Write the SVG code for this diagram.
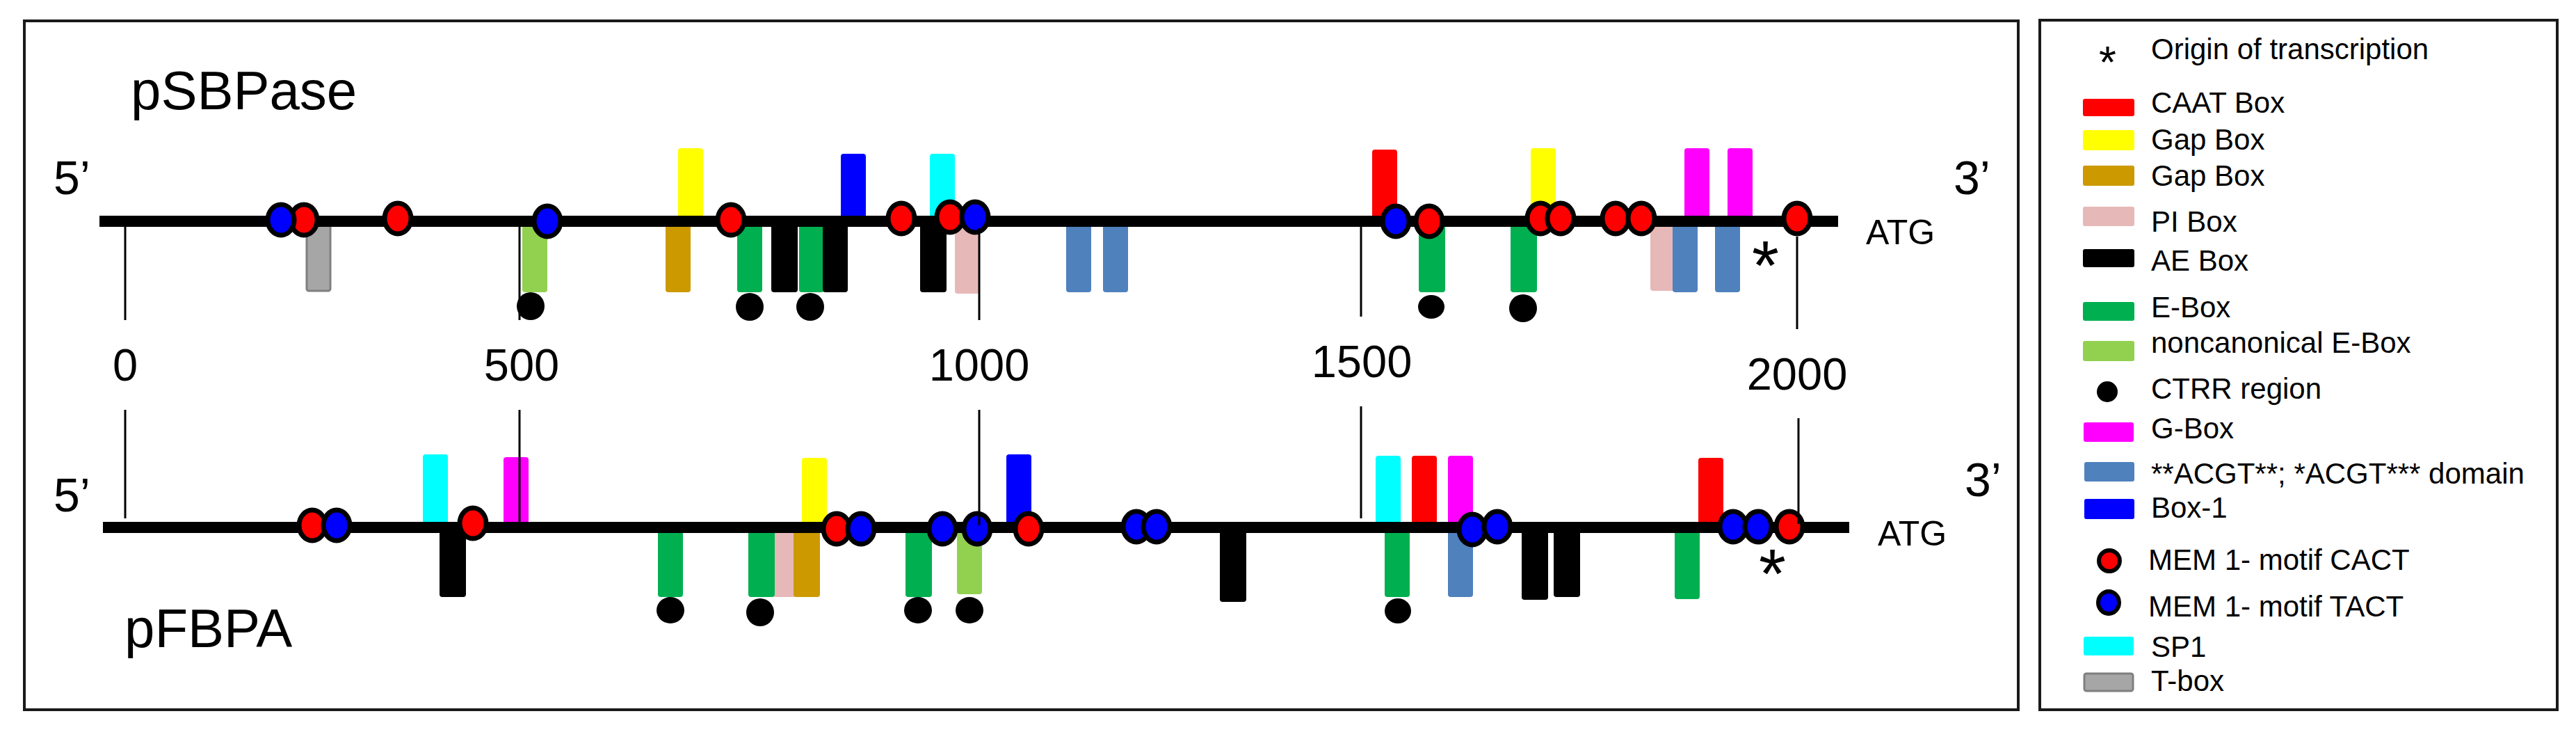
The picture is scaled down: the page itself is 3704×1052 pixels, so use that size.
<svg xmlns="http://www.w3.org/2000/svg" width="3704" height="1052" viewBox="0 0 3704 1052">
<style>
text{font-family:"Liberation Sans",Arial,sans-serif;fill:#000}
.frame{fill:none;stroke:#1a1a1a;stroke-width:4}
.caat{fill:#ff0000}.gap{fill:#ffff00}.gap2{fill:#cc9900}.pi{fill:#e6b9b8}.ae{fill:#000}.ebox{fill:#00b050}.nce{fill:#92d050}.gbox{fill:#ff00ff}.acgt{fill:#4f81bd}.box1{fill:#0000ff}.sp1{fill:#00ffff}
.tbox{fill:#a6a6a6;stroke:#7f7f7f;stroke-width:3}
.cact{fill:#ff0000;stroke:#000;stroke-width:7}
.tact{fill:#0000ff;stroke:#000;stroke-width:7}
.ctrr{fill:#000}
.dna{stroke:#000;stroke-width:16}
.tick{stroke:#000;stroke-width:3}
.lbl{font-size:78px}
.end{font-size:68px}
.num{font-size:65px;text-anchor:middle}
.atg{font-size:50px}
.ast{font-size:100px}
.leg{font-size:42px}
</style>

<rect id="main-frame" class="frame" x="35" y="30" width="2867" height="990"/>
<rect id="legend-frame" class="frame" x="2933" y="29" width="744" height="991"/>

<g id="pSBPase">
  <text class="lbl" x="188" y="157">pSBPase</text>
  <text class="end" x="77" y="279">5’</text>
  <text class="end" x="2809" y="279">3’</text>
  <text class="atg" x="2683" y="351">ATG</text>
  <text class="ast" x="2519" y="416">*</text>
  <g id="top-boxes-above">
    <rect class="gap" x="975" y="213" width="36" height="105" rx="4"/>
    <rect class="box1" x="1209" y="221" width="36" height="97" rx="4"/>
    <rect class="sp1" x="1337" y="221" width="36" height="97" rx="4"/>
    <rect class="caat" x="1973" y="215" width="36" height="103" rx="4"/>
    <rect class="gap" x="2201" y="213" width="36" height="105" rx="4"/>
    <rect class="gbox" x="2422" y="213" width="36" height="105" rx="4"/>
    <rect class="gbox" x="2484" y="213" width="36" height="105" rx="4"/>
  </g>
  <g id="top-boxes-below">
    <rect class="tbox" x="441" y="320" width="34" height="98" rx="3"/>
    <rect class="nce" x="751" y="318" width="36" height="102" rx="4"/>
    <rect class="gap2" x="957" y="318" width="36" height="102" rx="4"/>
    <rect class="ebox" x="1060" y="318" width="36" height="102" rx="4"/>
    <rect class="ae" x="1109" y="318" width="38" height="102" rx="4"/>
    <rect class="ebox" x="1149" y="318" width="36" height="102" rx="4"/>
    <rect class="ae" x="1183" y="318" width="36" height="102" rx="4"/>
    <rect class="ae" x="1323" y="318" width="38" height="102" rx="4"/>
    <rect class="pi" x="1373" y="318" width="36" height="104" rx="4"/>
    <rect class="acgt" x="1533" y="318" width="36" height="102" rx="4"/>
    <rect class="acgt" x="1586" y="318" width="36" height="102" rx="4"/>
    <rect class="ebox" x="2040" y="318" width="38" height="102" rx="4"/>
    <rect class="ebox" x="2172" y="318" width="38" height="102" rx="4"/>
    <rect class="pi" x="2373" y="318" width="36" height="100" rx="4"/>
    <rect class="acgt" x="2405" y="318" width="36" height="102" rx="4"/>
    <rect class="acgt" x="2466" y="318" width="36" height="102" rx="4"/>
  </g>
  <line class="dna" x1="143" y1="318" x2="2643" y2="318"/>
  <g id="top-ctrr">
    <ellipse class="ctrr" cx="763" cy="440" rx="20" ry="20"/>
    <ellipse class="ctrr" cx="1078" cy="441" rx="20" ry="20"/>
    <ellipse class="ctrr" cx="1165" cy="441" rx="20" ry="20"/>
    <ellipse class="ctrr" cx="2058" cy="441" rx="19" ry="17"/>
    <ellipse class="ctrr" cx="2190" cy="443" rx="20" ry="20"/>
  </g>
  <g id="top-mem">
    <ellipse class="cact" cx="437" cy="316" rx="19" ry="22"/>
    <ellipse class="tact" cx="404" cy="316" rx="19" ry="22"/>
    <ellipse class="cact" cx="572" cy="314" rx="19" ry="22"/>
    <ellipse class="tact" cx="787" cy="318" rx="19" ry="22"/>
    <ellipse class="cact" cx="1051" cy="316" rx="19" ry="22"/>
    <ellipse class="cact" cx="1296" cy="314" rx="19" ry="22"/>
    <ellipse class="cact" cx="1366" cy="312" rx="19" ry="22"/>
    <ellipse class="tact" cx="1402" cy="312" rx="19" ry="22"/>
    <ellipse class="tact" cx="2007" cy="318" rx="19" ry="22"/>
    <ellipse class="cact" cx="2055" cy="318" rx="19" ry="22"/>
    <ellipse class="cact" cx="2215" cy="314" rx="19" ry="22"/>
    <ellipse class="cact" cx="2244" cy="314" rx="19" ry="22"/>
    <ellipse class="cact" cx="2323" cy="314" rx="19" ry="22"/>
    <ellipse class="cact" cx="2360" cy="314" rx="19" ry="22"/>
    <ellipse class="cact" cx="2584" cy="314" rx="19" ry="22"/>
  </g>
  <g id="top-ticks">
    <line class="tick" x1="180" y1="326" x2="180" y2="460"/>
    <line class="tick" x1="747" y1="325" x2="747" y2="460"/>
    <line class="tick" x1="1408" y1="328" x2="1408" y2="460"/>
    <line class="tick" x1="1957" y1="325" x2="1957" y2="455"/>
    <line class="tick" x1="2584" y1="340" x2="2584" y2="473"/>
  </g>
</g>

<g id="scale">
  <text class="num" x="180" y="547">0</text>
  <text class="num" x="750" y="547">500</text>
  <text class="num" x="1408" y="547">1000</text>
  <text class="num" x="1958" y="542">1500</text>
  <text class="num" x="2584" y="560">2000</text>
</g>

<g id="pFBPA">
  <text class="lbl" x="179" y="930">pFBPA</text>
  <text class="end" x="77" y="735">5’</text>
  <text class="end" x="2825" y="713">3’</text>
  <text class="atg" x="2700" y="784">ATG</text>
  <text class="ast" x="2529" y="859">*</text>
  <g id="bottom-boxes-above">
    <rect class="sp1" x="608" y="653" width="36" height="105" rx="4"/>
    <rect class="gbox" x="724" y="657" width="36" height="101" rx="4"/>
    <rect class="gap" x="1153" y="658" width="36" height="100" rx="4"/>
    <rect class="box1" x="1447" y="653" width="36" height="105" rx="4"/>
    <rect class="sp1" x="1978" y="655" width="36" height="103" rx="4"/>
    <rect class="caat" x="2030" y="655" width="36" height="103" rx="4"/>
    <rect class="gbox" x="2082" y="655" width="36" height="103" rx="4"/>
    <rect class="caat" x="2442" y="658" width="36" height="100" rx="4"/>
  </g>
  <g id="bottom-boxes-below">
    <rect class="ae" x="632" y="758" width="38" height="100" rx="4"/>
    <rect class="ebox" x="946" y="758" width="36" height="100" rx="4"/>
    <rect class="pi" x="1111" y="758" width="36" height="100" rx="4"/>
    <rect class="ebox" x="1076" y="758" width="38" height="100" rx="4"/>
    <rect class="gap2" x="1141" y="758" width="38" height="100" rx="4"/>
    <rect class="ebox" x="1302" y="758" width="38" height="100" rx="4"/>
    <rect class="nce" x="1376" y="758" width="36" height="96" rx="4"/>
    <rect class="ae" x="1754" y="758" width="38" height="107" rx="4"/>
    <rect class="ebox" x="1991" y="758" width="36" height="100" rx="4"/>
    <rect class="acgt" x="2082" y="758" width="36" height="100" rx="4"/>
    <rect class="ae" x="2188" y="758" width="38" height="104" rx="4"/>
    <rect class="ae" x="2234" y="758" width="38" height="100" rx="4"/>
    <rect class="ebox" x="2408" y="758" width="36" height="103" rx="4"/>
  </g>
  <line class="dna" x1="148" y1="758" x2="2659" y2="758"/>
  <g id="bottom-ctrr">
    <ellipse class="ctrr" cx="964" cy="877" rx="20" ry="19"/>
    <ellipse class="ctrr" cx="1093" cy="880" rx="20" ry="20"/>
    <ellipse class="ctrr" cx="1320" cy="877" rx="20" ry="19"/>
    <ellipse class="ctrr" cx="1394" cy="877" rx="20" ry="19"/>
    <ellipse class="ctrr" cx="2010" cy="878" rx="19" ry="18"/>
  </g>
  <g id="bottom-mem">
    <ellipse class="cact" cx="449" cy="755" rx="19" ry="22"/>
    <ellipse class="tact" cx="484" cy="755" rx="19" ry="22"/>
    <ellipse class="cact" cx="680" cy="752" rx="19" ry="22"/>
    <ellipse class="cact" cx="1203" cy="760" rx="19" ry="22"/>
    <ellipse class="tact" cx="1238" cy="760" rx="19" ry="22"/>
    <ellipse class="tact" cx="1355" cy="760" rx="19" ry="22"/>
    <ellipse class="tact" cx="1405" cy="760" rx="19" ry="22"/>
    <ellipse class="cact" cx="1479" cy="760" rx="19" ry="22"/>
    <ellipse class="tact" cx="1634" cy="757" rx="19" ry="22"/>
    <ellipse class="tact" cx="1663" cy="757" rx="19" ry="22"/>
    <ellipse class="tact" cx="2117" cy="761" rx="19" ry="22"/>
    <ellipse class="tact" cx="2153" cy="757" rx="19" ry="22"/>
    <ellipse class="tact" cx="2492" cy="757" rx="19" ry="22"/>
    <ellipse class="tact" cx="2528" cy="757" rx="19" ry="22"/>
    <ellipse class="cact" cx="2573" cy="757" rx="19" ry="22"/>
  </g>
  <g id="bottom-ticks">
    <line class="tick" x1="180" y1="589" x2="180" y2="745"/>
    <line class="tick" x1="747" y1="589" x2="747" y2="753"/>
    <line class="tick" x1="1408" y1="589" x2="1408" y2="755"/>
    <line class="tick" x1="1957" y1="584" x2="1957" y2="745"/>
    <line class="tick" x1="2586" y1="601" x2="2586" y2="753"/>
  </g>
</g>

<g id="legend">
  <text x="3018" y="112" style="font-size:64px">*</text>
  <text class="leg" x="3093" y="85">Origin of transcription</text>
  <rect class="caat" x="2995" y="142" width="74" height="25" rx="3"/>
  <text class="leg" x="3093" y="162">CAAT Box</text>
  <rect class="gap" x="2995" y="187" width="74" height="29" rx="3"/>
  <text class="leg" x="3093" y="215">Gap Box</text>
  <rect class="gap2" x="2995" y="238" width="74" height="29" rx="3"/>
  <text class="leg" x="3093" y="267">Gap Box</text>
  <rect class="pi" x="2995" y="297" width="74" height="28" rx="3"/>
  <text class="leg" x="3093" y="333">PI Box</text>
  <rect class="ae" x="2995" y="358" width="74" height="26" rx="3"/>
  <text class="leg" x="3093" y="389">AE Box</text>
  <rect class="ebox" x="2995" y="434" width="74" height="27" rx="3"/>
  <text class="leg" x="3093" y="456">E-Box</text>
  <rect class="nce" x="2995" y="490" width="74" height="29" rx="3"/>
  <text class="leg" x="3093" y="507">noncanonical E-Box</text>
  <ellipse class="ctrr" cx="3030" cy="563" rx="15" ry="15"/>
  <text class="leg" x="3093" y="573">CTRR region</text>
  <rect class="gbox" x="2996" y="607" width="72" height="28" rx="3"/>
  <text class="leg" x="3093" y="630">G-Box</text>
  <rect class="acgt" x="2997" y="664" width="72" height="28" rx="3"/>
  <text class="leg" x="3093" y="695">**ACGT**; *ACGT*** domain</text>
  <rect class="box1" x="2997" y="717" width="72" height="29" rx="3"/>
  <text class="leg" x="3093" y="744">Box-1</text>
  <ellipse class="cact" cx="3033" cy="806" rx="15" ry="15" style="stroke-width:6"/>
  <text class="leg" x="3089" y="819">MEM 1- motif CACT</text>
  <ellipse class="tact" cx="3032" cy="866" rx="15" ry="16" style="stroke-width:6"/>
  <text class="leg" x="3089" y="886">MEM 1- motif TACT</text>
  <rect class="sp1" x="2996" y="915" width="72" height="27" rx="3"/>
  <text class="leg" x="3093" y="944">SP1</text>
  <rect class="tbox" x="2997" y="968" width="70" height="25" rx="3"/>
  <text class="leg" x="3093" y="993">T-box</text>
</g>
</svg>
